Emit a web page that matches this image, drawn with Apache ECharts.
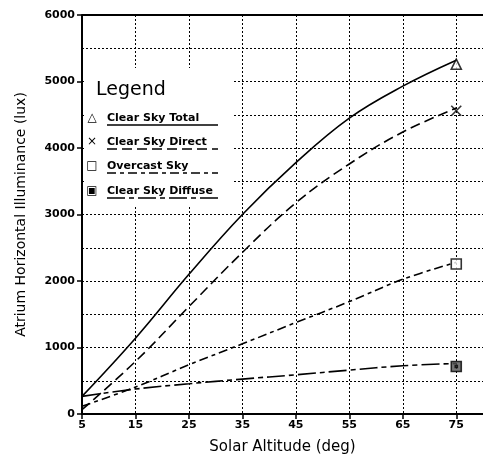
<!DOCTYPE html>
<html>
<head>
<meta charset="utf-8">
<script src="https://cdn.jsdelivr.net/npm/echarts@6/dist/echarts.min.js"></script>
<style>
  html, body { margin: 0; padding: 0; background: #fff; }
  #chart { width: 483px; height: 462px; }
</style>
</head>
<body>
<div id="chart"></div>
<script>
// solar altitude (deg)
var altitudes = [5, 15, 25, 35, 45, 55, 65, 75];
// atrium horizontal illuminance (lux)
var clearSkyTotal = [265, 1140, 2100, 3000, 3780, 4450, 4930, 5320];
var clearSkyDirect = [65, 790, 1615, 2430, 3175, 3760, 4240, 4600];
var overcastSky = [115, 405, 740, 1055, 1375, 1690, 2025, 2280];
var clearSkyDiffuse = [265, 375, 455, 525, 590, 660, 725, 760];
// measured points at 75 deg (the symbols)
var markerAltitude = 75;
var markerValues = [5260, 4560, 2255, 715];
var seriesNames = ['Clear Sky Total', 'Clear Sky Direct', 'Overcast Sky', 'Clear Sky Diffuse'];

var font = 'DejaVu Sans';
var dashDirect = [10, 5];
var dashOvercast = [9, 4, 4, 4];
var dashDiffuse = [18, 4, 5, 4];

var xSymbol = 'path://M0,0L10,10M10,0L0,10';
var boxDotSymbol = 'path://M0,0L10,0L10,10L0,10Z M4,4L6,4L6,6L4,6Z';

function pairs(vals) {
  return altitudes.map(function (a, i) { return [a, vals[i]]; });
}

function curve(name, vals, dash) {
  return {
    name: name,
    type: 'line',
    smooth: 0.4,
    symbol: 'none',
    lineStyle: { color: '#000', width: 1.6, type: dash || 'solid' },
    data: pairs(vals),
    z: 3
  };
}

function marker(name, value, symbol, fill) {
  return {
    name: name,
    type: 'scatter',
    symbol: symbol,
    symbolSize: 10,
    itemStyle: { color: fill, borderColor: '#000', borderWidth: 1.6 },
    data: [[markerAltitude, value]],
    z: 4
  };
}

// legend drawn by hand: symbol, bold label, line sample under the label
var legendRows = [
  { y: 118, sym: '\u25B3', dash: null },
  { y: 142, sym: '\u00D7', dash: dashDirect },
  { y: 166, sym: '\u25A1', dash: dashOvercast },
  { y: 191, sym: '\u25A3', dash: dashDiffuse }
];
var legendGraphics = [
  { type: 'rect', shape: { x: 84, y: 68, width: 148, height: 139 }, style: { fill: '#fff' }, z: 10 },
  { type: 'text', x: 96, y: 90, style: { text: 'Legend', fontFamily: font, fontSize: 19, fill: '#000', verticalAlign: 'middle' }, z: 11 }
];
legendRows.forEach(function (r, i) {
  legendGraphics.push({ type: 'text', x: 92, y: r.y, style: { text: r.sym, fontFamily: font, fontSize: 12, fill: '#000', align: 'center', verticalAlign: 'middle' }, z: 11 });
  legendGraphics.push({ type: 'text', x: 107, y: r.y, style: { text: seriesNames[i], fontFamily: font, fontWeight: 'bold', fontSize: 11, fill: '#000', verticalAlign: 'middle' }, z: 11 });
  legendGraphics.push({ type: 'line', shape: { x1: 107, y1: r.y + 7, x2: 218, y2: r.y + 7 }, style: { stroke: '#000', lineWidth: 1.6, lineDash: r.dash }, z: 11 });
});

var chart = echarts.init(document.getElementById('chart'));
chart.setOption({
  backgroundColor: '#fff',
  animation: false,
  grid: { left: 82, right: -4, top: 15, bottom: 48, containLabel: false },
  xAxis: {
    type: 'value',
    min: 5,
    max: 80,
    interval: 10,
    name: 'Solar Altitude (deg)',
    nameLocation: 'middle',
    nameGap: 26,
    nameTextStyle: { fontFamily: font, fontSize: 15, color: '#000' },
    axisLine: { onZero: false, lineStyle: { color: '#000', width: 2 } },
    axisTick: { inside: false, length: 5, lineStyle: { color: '#000', width: 1.5 } },
    axisLabel: { showMaxLabel: false, fontFamily: font, fontWeight: 'bold', fontSize: 11, color: '#000', margin: 6 },
    splitLine: { show: true, lineStyle: { color: '#000', type: [2, 2], width: 1 } }
  },
  yAxis: {
    type: 'value',
    min: 0,
    max: 6000,
    interval: 1000,
    name: 'Atrium Horizontal Illuminance (lux)',
    nameLocation: 'middle',
    nameGap: 54,
    nameTextStyle: { fontFamily: font, fontSize: 14, color: '#000' },
    axisLine: { show: true, onZero: false, lineStyle: { color: '#000', width: 2 } },
    axisTick: { show: true, length: 5, lineStyle: { color: '#000', width: 1.5 } },
    axisLabel: {
      fontFamily: font, fontWeight: 'bold', fontSize: 11, color: '#000', margin: 7,
      formatter: function (v) { return String(v); }
    },
    splitLine: { show: true, lineStyle: { color: '#000', type: [2, 2], width: 1 } },
    minorTick: { show: false, splitNumber: 2 },
    minorSplitLine: { show: true, lineStyle: { color: '#000', type: [2, 2], width: 1 } }
  },
  graphic: legendGraphics,
  series: [
    curve(seriesNames[0], clearSkyTotal),
    curve(seriesNames[1], clearSkyDirect, dashDirect),
    curve(seriesNames[2], overcastSky, dashOvercast),
    curve(seriesNames[3], clearSkyDiffuse, dashDiffuse),
    marker(seriesNames[0], markerValues[0], 'triangle', '#fff'),
    marker(seriesNames[1], markerValues[1], xSymbol, 'none'),
    marker(seriesNames[2], markerValues[2], 'rect', '#fff'),
    marker(seriesNames[3], markerValues[3], boxDotSymbol, '#555'),
    {
      // solid frame along the top edge
      type: 'line', symbol: 'none', silent: true,
      lineStyle: { color: '#000', width: 2 },
      data: [[5, 6000], [80, 6000]], z: 2
    }
  ]
});
</script>
</body>
</html>
